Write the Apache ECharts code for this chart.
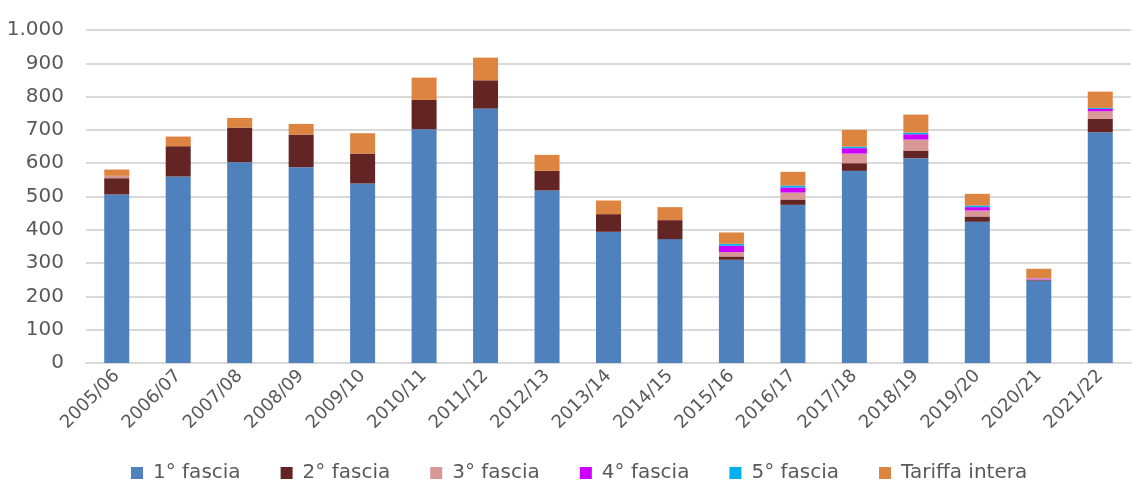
<!DOCTYPE html>
<html>
<head>
<meta charset="utf-8">
<script src="https://cdn.jsdelivr.net/npm/echarts@6/dist/echarts.min.js"></script>
<style>
  html, body { margin: 0; padding: 0; background: #fff; }
  #chart { width: 1132px; height: 480px; }
</style>
</head>
<body>
<div id="chart"></div>
<script>
// Academic years
const categories = ['2005/06','2006/07','2007/08','2008/09','2009/10','2010/11','2011/12','2012/13','2013/14','2014/15','2015/16','2016/17','2017/18','2018/19','2019/20','2020/21','2021/22'];

// Subscribers per fare band
const fascia1 = [506, 560, 603, 588, 539, 702, 764, 518, 394, 372, 310, 475, 577, 615, 424, 247, 693];
const fascia2 = [ 49,  91, 104,  98,  90,  88,  85,  59,  53,  57,  10,  16,  23,  23,  16,   2,  40];
const fascia3 = [  7,   0,   0,   0,   0,   0,   0,   0,   0,   0,  13,  21,  29,  33,  18,   2,  23];
const fascia4 = [  0,   0,   0,   0,   0,   0,   0,   0,   0,   0,  19,  15,  16,  16,  10,   2,   7];
const fascia5 = [  0,   0,   0,   0,   0,   0,   0,   0,   0,   0,   6,   6,   5,   5,   5,   1,   3];
const tariffaIntera = [19, 29, 29, 32, 61, 67, 68, 48, 41, 39, 34, 41, 50, 54, 35, 29, 49];

const yTicks = { min: 0, max: 1000, interval: 100 };

const seriesDefs = [
  { name: '1° fascia', data: fascia1, color: '#4f81bd' },
  { name: '2° fascia', data: fascia2, color: '#632523' },
  { name: '3° fascia', data: fascia3, color: '#d99795' },
  { name: '4° fascia', data: fascia4, color: '#cc00ff' },
  { name: '5° fascia', data: fascia5, color: '#00b0f0' },
  { name: 'Tariffa intera', data: tariffaIntera, color: '#dd8441' }
];

const font = 'DejaVu Sans';
const textColor = '#595959';

const chart = echarts.init(document.getElementById('chart'), null, { renderer: 'canvas' });
chart.setOption({
  animation: false,
  backgroundColor: '#ffffff',
  grid: { left: 86, right: 1, top: 30, bottom: 117, containLabel: false, outerBoundsMode: 'none' },
  legend: {
    top: 458,
    left: 126,
    itemWidth: 12,
    itemHeight: 12,
    itemGap: 40,
    icon: 'rect',
    textStyle: { fontFamily: font, fontSize: 20, color: textColor, padding: [0, 0, 0, 5] },
    data: seriesDefs.map(s => s.name)
  },
  xAxis: {
    type: 'category',
    data: categories,
    axisLine: { show: true, lineStyle: { color: '#d9d9d9', width: 2 } },
    axisTick: { show: false },
    axisLabel: {
      interval: 0,
      rotate: 45,
      margin: 10,
      fontFamily: font,
      fontSize: 18,
      color: textColor
    }
  },
  yAxis: {
    type: 'value',
    min: yTicks.min,
    max: yTicks.max,
    interval: yTicks.interval,
    axisLine: { show: false },
    axisTick: { show: false },
    splitLine: { lineStyle: { color: '#d9d9d9', width: 2 } },
    axisLabel: {
      margin: 22,
      fontFamily: font,
      fontSize: 20,
      color: textColor,
      formatter: v => v >= 1000 ? (Math.floor(v / 1000) + '.' + String(v % 1000).padStart(3, '0')) : String(v)
    }
  },
  series: seriesDefs.map(s => ({
    name: s.name,
    type: 'bar',
    stack: 'totale',
    barWidth: 25,
    data: s.data,
    itemStyle: { color: s.color }
  }))
});
</script>
</body>
</html>
